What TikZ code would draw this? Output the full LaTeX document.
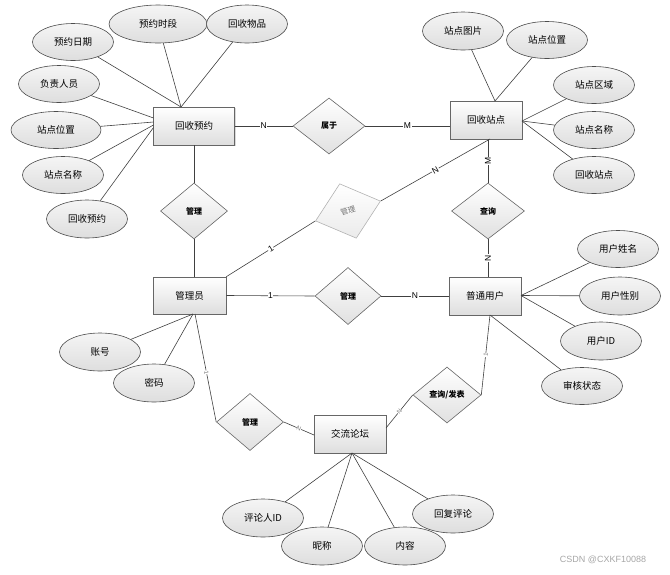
\documentclass[tikz,border=0pt]{standalone}
\usepackage{fontspec}
\setmainfont{Noto Sans CJK SC}
\newfontfamily\latinfont{Liberation Sans}
\usetikzlibrary{shapes.geometric,shadows,calc}
\begin{document}
\begin{tikzpicture}[x=1pt,y=-1pt,
  every node/.style={font=\fontsize{9.5}{11}\selectfont},
  ent/.style={draw=black!60, line width=0.6pt, shape=rectangle, top color=white, bottom color=black!13, minimum height=38pt, inner sep=0pt, drop shadow={shadow xshift=1.2pt,shadow yshift=-1.2pt,opacity=0.3}},
  att/.style={draw=black!70, line width=0.6pt, ellipse, top color=black!4, bottom color=black!13, minimum width=81pt, minimum height=37pt, inner sep=0pt},
  rel/.style={draw=black!60, line width=0.6pt, diamond, top color=white, bottom color=black!12, inner sep=0pt, aspect=1.2, minimum width=67pt, minimum height=56pt, font=\fontsize{8}{9}\selectfont\bfseries},
  lnk/.style={draw=black!75, line width=0.6pt},
  lab/.style={fill=white, inner sep=0.6pt, font=\latinfont\fontsize{8.5}{9}\selectfont},
  tlab/.style={fill=white, inner sep=0.2pt, text=black!55, font=\latinfont\fontsize{6}{6}\selectfont, sloped},
]
\useasboundingbox (0,0) rectangle (670,574);

% entities
\node[ent, minimum width=81pt] (r1) at (194,126) {回收预约};
\node[ent, minimum width=72pt] (r2) at (486,120) {回收站点};
\node[ent, minimum width=73pt, minimum height=37pt] (r3) at (189.5,295.5) {管理员};
\node[ent, minimum width=72pt] (r4) at (485,296) {普通用户};
\node[ent, minimum width=72pt] (r5) at (350,434) {交流论坛};

% relationships
\node[rel, minimum width=72pt] (d1) at (329,126) {属于};
\node[rel] (d2) at (194,211) {管理};
\node[rel, draw=black!30, top color=white, bottom color=black!8, rotate=17, minimum width=68pt, minimum height=57pt, text=black!55, font=\fontsize{7.5}{8}\selectfont] (d3) at (348,211) {管理};
\node[rel, minimum width=73pt] (d4) at (488,211) {查询};
\node[rel, minimum width=66pt, minimum height=57pt] (d5) at (348,296) {管理};
\node[rel, minimum height=57pt] (d6) at (250,422) {管理};
\node[rel, minimum width=68pt] (d7) at (447,395) {查询/发表};

% attributes of 回收预约
\node[att] (a1) at (73,42) {预约日期};
\node[att, minimum width=98pt, minimum height=38pt] (a2) at (158,24) {预约时段};
\node[att, minimum height=38pt] (a3) at (247,24) {回收物品};
\node[att] (a4) at (59,84) {负责人员};
\node[att, minimum width=90pt] (a5) at (56,130) {站点位置};
\node[att] (a6) at (63,175) {站点名称};
\node[att, minimum height=38pt] (a7) at (87,219) {回收预约};

% attributes of 回收站点
\node[att, minimum height=38pt] (b1) at (463,31) {站点图片};
\node[att] (b2) at (547,40) {站点位置};
\node[att] (b3) at (594,85) {站点区域};
\node[att] (b4) at (594,130) {站点名称};
\node[att] (b5) at (594,175) {回收站点};

% attributes of 普通用户
\node[att] (c1) at (618,249) {用户姓名};
\node[att, minimum height=38pt] (c2) at (620,296) {用户性别};
\node[att, minimum height=38pt] (c3) at (601,341) {用户ID};
\node[att] (c4) at (582,386) {审核状态};

% attributes of 管理员
\node[att, minimum height=38pt] (e1) at (100,352) {账号};
\node[att, minimum height=38pt] (e2) at (154,383) {密码};

% attributes of 交流论坛
\node[att, minimum height=38pt] (f1) at (263,518) {评论人ID};
\node[att, minimum height=38pt] (f2) at (322,546) {昵称};
\node[att, minimum height=38pt] (f3) at (405,546) {内容};
\node[att, minimum height=38pt] (f4) at (453,514) {回复评论};

% junction points
\coordinate (r1t) at (181,107);
\coordinate (r1l1) at (153.5,118);
\coordinate (r1l2) at (153.5,122);
\coordinate (r1l3) at (153.5,125);
\coordinate (r1l4) at (153.5,127.5);
\coordinate (r2t) at (495,101);
\coordinate (r2r) at (522,121);
\coordinate (r2b) at (490,139);
\coordinate (r3b) at (193,314);
\coordinate (r3b2) at (195,314);
\coordinate (r4r) at (521,295.5);
\coordinate (r4b) at (490,315);
\coordinate (r5b) at (352,453);
\coordinate (r5l) at (314,435);
\coordinate (r5r) at (386,428);

% attribute links
\foreach \a in {a1,a2,a3} \draw[lnk] (\a) -- (r1t);
\draw[lnk] (a4) -- (r1l1);
\draw[lnk] (a5) -- (r1l2);
\draw[lnk] (a6) -- (r1l3);
\draw[lnk] (a7) -- (r1l4);
\foreach \a in {b1,b2} \draw[lnk] (\a) -- (r2t);
\foreach \a in {b3,b4,b5} \draw[lnk] (\a) -- (r2r);
\foreach \a in {c1,c2,c3} \draw[lnk] (\a) -- (r4r);
\draw[lnk] (c4) -- (r4b);
\foreach \a in {e1,e2} \draw[lnk] (\a) -- (r3b);
\foreach \a in {f1,f2,f3,f4} \draw[lnk] (\a) -- (r5b);

% relationship links
\draw[lnk] (r1.east) -- node[lab] {N} (d1.west);
\draw[lnk] (d1.east) -- node[lab] {M} (d1.east -| r2.west);
\draw[lnk] (d2.north) -- (d2.north |- r1.south);
\draw[lnk] (d2.south) -- (d2.south |- r3.north);
\draw[lnk] (r3.north east) -- node[lab, sloped] {1} (d3.west);
\draw[lnk] (d3.east) -- node[lab, sloped] {N} (r2b);
\draw[lnk] (d4.north) -- node[lab, rotate=90] {M} (d4.north |- r2.south);
\draw[lnk] (d4.south) -- node[lab, rotate=90] {N} (d4.south |- r4.north);
\draw[lnk] (r3.east) -- node[lab] {1} (d5.west);
\draw[lnk] (d5.east) -- node[lab] {N} (r4.west);
\draw[lnk] (r3b2) -- node[tlab, pos=0.54] {1} (d6.west);
\draw[lnk] (d6.east) -- node[tlab] {N} (r5l);
\draw[lnk] (r5r) -- node[tlab] {N} (d7.west);
\draw[lnk] (d7.east) -- node[tlab] {1} (r4b);

% watermark
\node[text=black!35, font=\latinfont\fontsize{9}{10}\selectfont] (wm) at (603,560) {CSDN @CXKF10088};
\end{tikzpicture}
\end{document}
